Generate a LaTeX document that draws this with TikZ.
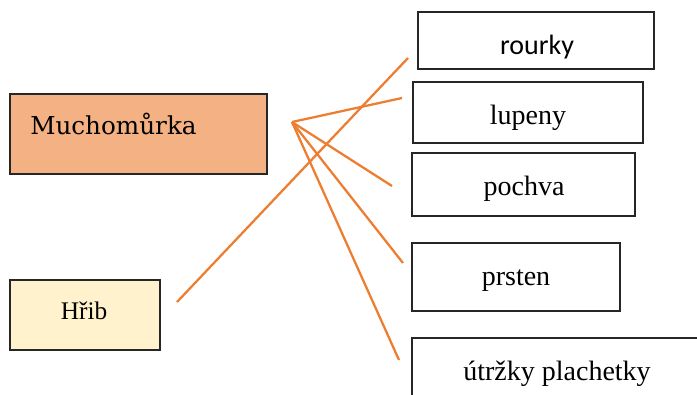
\documentclass[tikz,border=0pt]{standalone}
\usepackage{fontspec}
\setmainfont{Liberation Serif}
\newfontfamily\mserif{DejaVu Serif}
\newfontfamily\msans{Carlito}
\definecolor{lineorange}{HTML}{ED7D31}
\definecolor{mfill}{HTML}{F4B183}
\definecolor{hfill}{HTML}{FFF2CC}
\begin{document}
\begin{tikzpicture}[x=0.75pt,y=-0.75pt,
  box/.style={draw=black!85,line width=1.3pt,inner sep=0pt,outer sep=0pt,anchor=north west},
  lbl/.style={anchor=base,inner sep=0pt,font=\fontsize{21}{24}\selectfont},
  conn/.style={draw=lineorange,line width=1.7pt}]
\useasboundingbox (0,0) rectangle (697,394);
% left boxes
\node[box,fill=mfill,minimum width=257pt*0.75,minimum height=80pt*0.75] (mb) at (10,94) {};
\node[anchor=base west,inner sep=0pt,font=\mserif\fontsize{18.5}{21}\selectfont] (mt) at (30,134) {Muchomůrka};
\node[box,fill=hfill,minimum width=150pt*0.75,minimum height=70pt*0.75] (hb) at (10,280) {};
\node[lbl,font=\fontsize{19}{22}\selectfont] (ht) at (84,319) {Hřib};
% right boxes
\node[box,minimum width=236pt*0.75,minimum height=57pt*0.75] (rb) at (418,12) {};
\node[lbl,font=\msans\fontsize{21}{24}\selectfont] (rt) at (537,54) {rourky};
\node[box,minimum width=230pt*0.75,minimum height=61pt*0.75] (lb) at (413,82) {};
\node[lbl] (lt) at (528,124) {lupeny};
\node[box,minimum width=223pt*0.75,minimum height=63pt*0.75] (pb) at (412,153) {};
\node[lbl] (pt) at (524,195) {pochva};
\node[box,minimum width=208pt*0.75,minimum height=68pt*0.75] (sb) at (412,243) {};
\node[lbl] (st) at (516,285) {prsten};
\node[box,minimum width=300pt*0.75,minimum height=70pt*0.75] (ub) at (412,338) {};
\node[lbl] (ut) at (557,380) {útržky plachetky};
% connector ends
\coordinate (h1) at (177,302);
\coordinate (h2) at (408,58);
\coordinate (m0) at (292,122);
\coordinate (m1) at (402,98);
\coordinate (m2) at (392,186);
\coordinate (m3) at (403,263);
\coordinate (m4) at (399,360);
\draw[conn] (h1) -- (h2);
\draw[conn] (m0) -- (m1);
\draw[conn] (m0) -- (m2);
\draw[conn] (m0) -- (m3);
\draw[conn] (m0) -- (m4);
\end{tikzpicture}
\end{document}
